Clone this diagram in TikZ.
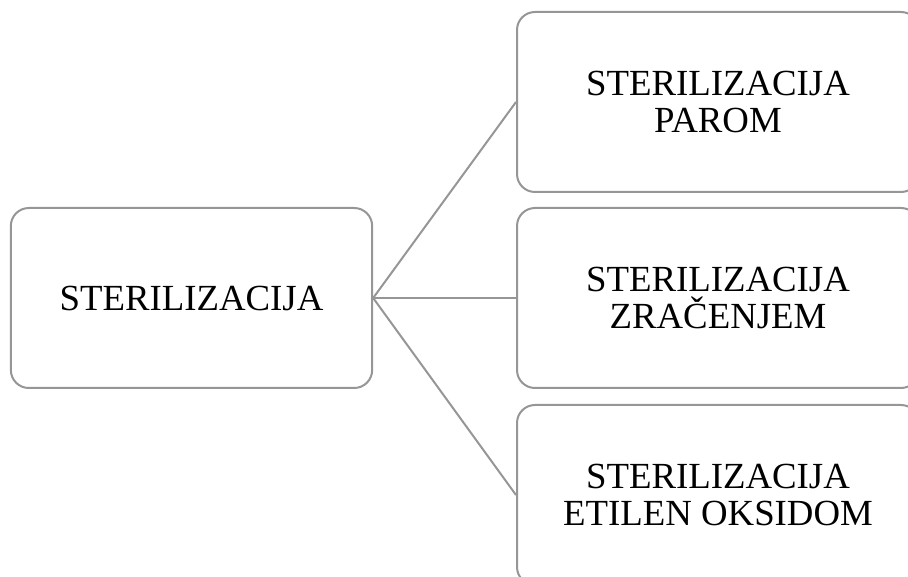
\documentclass[tikz,border=0pt]{standalone}
\usepackage{fontspec}
\setmainfont{Liberation Serif}
\definecolor{boxgray}{RGB}{150,150,150}
\begin{document}
\begin{tikzpicture}[x=0.75pt,y=-0.75pt,
  every node/.style={draw=boxgray,line width=1.5pt,rounded corners=13.5pt,
    align=center,inner sep=0pt,minimum height=135pt,
    font=\fontsize{27.6}{27.6}\selectfont}]
\useasboundingbox (0,0) rectangle (908,577);
\clip (0,0) rectangle (908,577);
\node[minimum width=271pt] (s0) at (191.5,298) {STERILIZACIJA};
\node[minimum width=301.5pt] (s1) at (718,102) {STERILIZACIJA\\PAROM};
\node[minimum width=301.5pt] (s2) at (718,298) {STERILIZACIJA\\ZRAČENJEM};
\node[minimum width=301.5pt] (s3) at (718,495) {STERILIZACIJA\\ETILEN OKSIDOM};
\draw[boxgray,line width=1.5pt] (s0.east) -- (s1.west);
\draw[boxgray,line width=1.5pt] (s0.east) -- (s2.west);
\draw[boxgray,line width=1.5pt] (s0.east) -- (s3.west);
\end{tikzpicture}
\end{document}
